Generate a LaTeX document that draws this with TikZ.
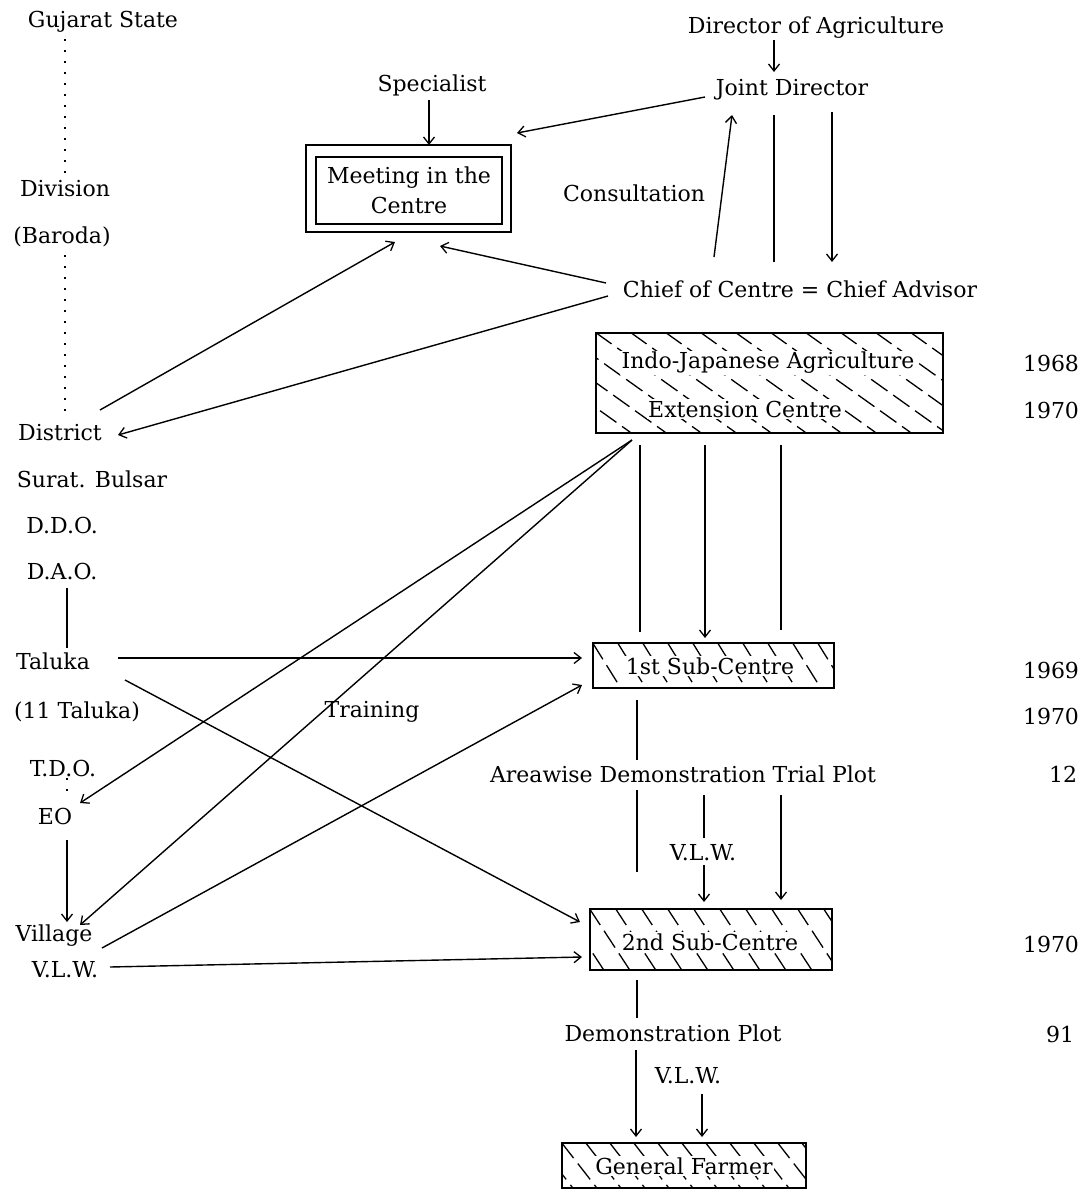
\documentclass[tikz,border=0pt]{standalone}
\usepackage{fontspec}
\setmainfont{DejaVu Serif}
\usetikzlibrary{arrows.meta,calc}
\begin{document}
\begin{tikzpicture}[x=1pt,y=-1pt,
  every node/.style={font=\fontsize{22}{26}\selectfont, inner sep=0pt},
  ln/.style={line width=1.4pt},
  arr/.style={ln,-{Straight Barb[length=7pt,width=11pt,line width=1.3pt]}},
  dots/.style={line width=1.8pt,dash pattern=on 2pt off 9pt},
  box/.style={draw,line width=1.5pt,inner sep=0pt},
  htext/.style={fill=white,inner sep=1.5pt},
  hatch/.style={line width=1.3pt,dash pattern=on 20pt off 7pt}]
\useasboundingbox (0,0) rectangle (1087,1194);

% ---------- left column ----------
\node (gs)   at (103,22)  {Gujarat State};
\node (div)  at (65,189)  {Division};
\node (bar)  at (62,237)  {(Baroda)};
\node (dist) at (60,433)  {District};
\node (sb)   at (92,479)  {Surat. Bulsar};
\node (ddo)  at (62,525)  {D.D.O.};
\node (dao)  at (62,571)  {D.A.O.};
\node (tal)  at (53,661)  {Taluka};
\node (tal11) at (77,712) {(11 Taluka)};
\node (tdo)  at (63,768)  {T.D.O.};
\node (eo)   at (55,816)  {EO};
\node (vil)  at (54,936)  {Village};
\node (vlw)  at (65,970)  {V.L.W.};

% ---------- top ----------
\node (spec) at (432,85)  {Specialist};
\node[box,minimum width=205,minimum height=87] (meet) at (408.5,188.5) {};
\node[box,minimum width=186,minimum height=67,align=center] (meetin) at (409,190.5) {Meeting in the\\[4pt]Centre};
\node (dir)  at (816,28)  {Director of Agriculture};
\node (jd)   at (792,90)  {Joint Director};
\node (cons) at (634,193) {Consultation};
\node (chief) at (800,289) {Chief of Centre = Chief Advisor};

% ---------- extension centre ----------
\node[box,minimum width=347,minimum height=100] (ext) at (769.5,383) {};
\begin{scope}
\clip (ext.south west) rectangle (ext.north east);
\foreach \i in {-4,...,12} \draw[hatch] ($(ext.north west)+(\i*35,0)$) -- ++(140,100);
\end{scope}
\node[htext] (extA) at (768,363) {Indo-Japanese Agriculture};
\node[htext] (extB) at (745,409) {Extension Centre};
\node (y68)  at (1051,363) {1968};
\node (y70a) at (1051,410) {1970};

% ---------- 1st sub-centre ----------
\node[box,minimum width=241,minimum height=45] (sub1) at (713.5,665.5) {};
\begin{scope}
\clip (sub1.south west) rectangle (sub1.north east);
\foreach \i in {-2,...,10} \draw[hatch] ($(sub1.north west)+(\i*25,0)$) -- ++(28,45);
\end{scope}
\node[htext] (sub1t) at (710,666) {1st Sub-Centre};
\node (y69)  at (1051,670) {1969};
\node (y70b) at (1051,716) {1970};
\node (n12)  at (1063,774) {12};
\node (train) at (372,712) {Training};
\node (area) at (683,774) {Areawise Demonstration Trial Plot};
\node (vlw2) at (703,853) {V.L.W.};

% ---------- 2nd sub-centre ----------
\node[box,minimum width=242,minimum height=61] (sub2) at (711,939.5) {};
\begin{scope}
\clip (sub2.south west) rectangle (sub2.north east);
\foreach \i in {-2,...,10} \draw[hatch] ($(sub2.north west)+(\i*26,0)$) -- ++(40,61);
\end{scope}
\node[htext] (sub2t) at (710,942) {2nd Sub-Centre};
\node (y70c) at (1051,944) {1970};
\node (demo) at (673,1033) {Demonstration Plot};
\node (n91)  at (1060,1034) {91};
\node (vlw3) at (688,1076) {V.L.W.};

% ---------- general farmer ----------
\node[box,minimum width=244,minimum height=45] (farm) at (684,1165.5) {};
\begin{scope}
\clip (farm.south west) rectangle (farm.north east);
\foreach \i in {-2,...,11} \draw[hatch] ($(farm.north west)+(\i*24,0)$) -- ++(35,45);
\end{scope}
\node[htext] (farmt) at (684,1166) {General Farmer};

% ---------- connectors ----------
\draw[dots] (div.north |- gs.south) ++(0,6) -- ($(div.north)+(0,-6)$);
\draw[dots] ($(bar.south)+(3,8)$) -- ($(dist.north)+(5,-6)$);
\draw[ln] ($(dao)+(5,17)$) -- ($(tal)+(14,-13)$);
\draw[dots] ($(tdo)+(4,10)$) -- ($(eo)+(12,-16)$);
\draw[arr] ($(eo)+(12,24)$) -- ($(vil)+(13,-14)$);

\draw[arr] ($(dir)+(-42,12)$) -- ($(jd)+(-18,-18)$);
\draw[arr] ($(spec)+(-3,15)$) -- ($(meet)+(20.5,-43.5)$);
\draw[arr] ($(jd)+(-87,7)$) -- ($(meet)+(108.5,-55.5)$);
\draw[arr] ($(chief)+(-86,-32)$) -- ($(jd)+(-60,25)$);
\draw[ln]  ($(jd)+(-18,25)$) -- ($(chief)+(-26,-27)$);
\draw[arr] ($(jd)+(40,22)$) -- ($(chief)+(32,-27)$);

\draw[arr] ($(dist)+(40,-23)$) -- ($(meet)+(-13.5,53.5)$);
\draw[arr] ($(chief)+(-192,7)$) -- ($(dist)+(58,2)$);
\draw[arr] ($(chief)+(-194,-6)$) -- ($(meet)+(31.5,57.5)$);

\draw[arr] ($(ext)+(-137.5,57)$) -- ($(eo)+(25,-13)$);
\draw[arr] ($(ext)+(-137.5,57)$) -- ($(vil)+(26,-11)$);
\draw[ln]  ($(ext)+(-129.5,62)$) -- ($(sub1)+(-73.5,-33.5)$);
\draw[arr] ($(ext)+(-64.5,62)$) -- ($(sub1)+(-8.5,-27.5)$);
\draw[ln]  ($(ext)+(11.5,62)$) -- ($(sub1)+(67.5,-35.5)$);

\draw[arr] ($(tal)+(65,-3)$) -- ($(sub1)+(-131.5,-7.5)$);
\draw[arr] ($(vil)+(48,12)$) -- ($(sub1)+(-131.5,19.5)$);
\draw[arr] ($(tal)+(72,19)$) -- ($(sub2)+(-131,-17.5)$);
\draw[arr] ($(vlw)+(45,-3)$) -- ($(sub2)+(-129,17.5)$);

\draw[ln]  ($(sub1)+(-76.5,34.5)$) -- ($(area)+(-46,-14)$);
\draw[ln]  ($(area)+(-46,16)$) -- ($(sub2)+(-74,-67.5)$);
\draw[ln]  ($(area)+(21,21)$) -- ($(vlw2)+(1,-15)$);
\draw[arr] ($(vlw2)+(1,12)$) -- ($(sub2)+(-7,-37.5)$);
\draw[arr] ($(area)+(98,21)$) -- ($(sub2)+(70,-39.5)$);

\draw[ln]  ($(sub2)+(-74,40.5)$) -- ($(demo)+(-36,-15)$);
\draw[arr] ($(demo)+(-37,17)$) -- ($(farm)+(-48,-28.5)$);
\draw[arr] ($(vlw3)+(14,18)$) -- ($(farm)+(18,-28.5)$);
\end{tikzpicture}
\end{document}
